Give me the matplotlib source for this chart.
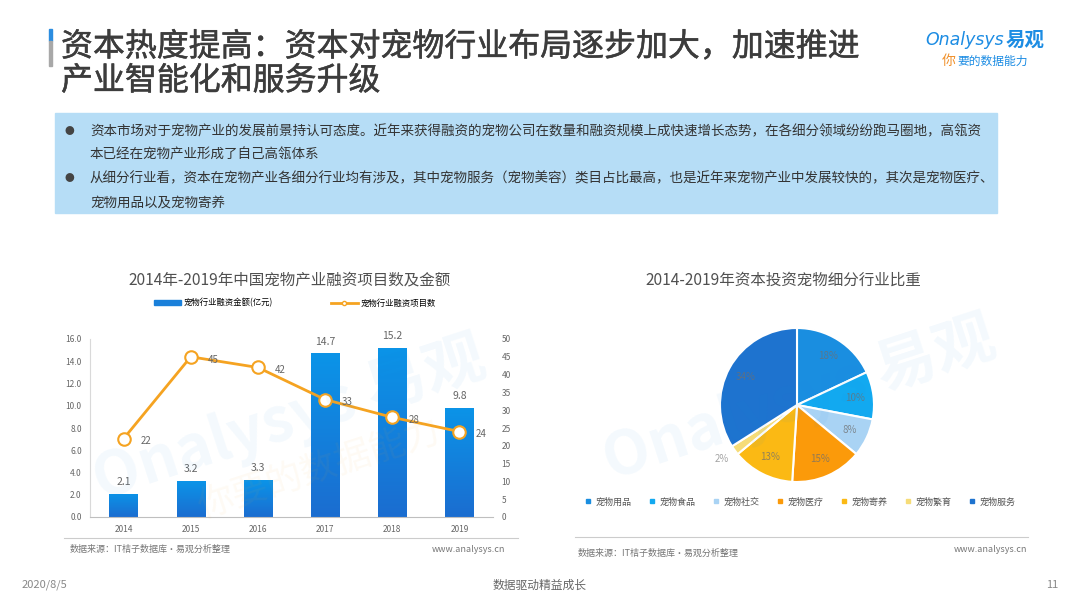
import numpy as np
import matplotlib.pyplot as plt
import matplotlib.patheffects as pe
from matplotlib.colors import LinearSegmentedColormap
from matplotlib.lines import Line2D
from matplotlib.patches import Rectangle

plt.rcParams['font.family'] = ['Noto Sans CJK SC', 'DejaVu Sans']

# 数据
years = ['2014', '2015', '2016', '2017', '2018', '2019']
amount = [2.1, 3.2, 3.3, 14.7, 15.2, 9.8]      # 宠物行业融资金额(亿元)
projects = [22, 45, 42, 33, 28, 24]             # 宠物行业融资项目数

pie_labels = ['宠物用品', '宠物食品', '宠物社交', '宠物医疗', '宠物寄养', '宠物繁育', '宠物服务']
pie_values = [18, 10, 8, 15, 13, 2, 34]
pie_colors = ['#1a8ee0', '#12a9f0', '#a9d3f4', '#fb9a0a', '#fbb914', '#f6dc78', '#1e73cf']

W, H = 1080, 608


def box(x0, y0, x1, y1):
    # 像素坐标 -> figure 坐标
    return [x0 / W, 1 - y1 / H, (x1 - x0) / W, (y1 - y0) / H]


def fx(x):
    return x / W


def fy(y):
    return 1 - y / H


fig = plt.figure(figsize=(W / 100, H / 100), dpi=100)
fig.patch.set_facecolor('white')

# 标题
fig.patches.append(Rectangle((fx(49), fy(41)), 3 / W, 12 / H, transform=fig.transFigure,
                             color='#2b8de0', zorder=5))
fig.patches.append(Rectangle((fx(49), fy(66)), 3 / W, 25 / H, transform=fig.transFigure,
                             color='#a8a8a8', zorder=5))
title_fx = [pe.withStroke(linewidth=0.35, foreground='#3c3c3c')]
fig.text(fx(61), fy(47), '资本热度提高：资本对宠物行业布局逐步加大，加速推进',
         fontsize=23, color='#3c3c3c', va='center', ha='left', path_effects=title_fx)
fig.text(fx(61), fy(81), '产业智能化和服务升级',
         fontsize=23, color='#3c3c3c', va='center', ha='left', path_effects=title_fx)

# logo
fig.text(fx(925), fy(40), 'Onalysys', fontsize=12.5, color='#1c8ce3', va='center', ha='left',
         style='italic', family=['DejaVu Sans'])
fig.text(fx(1006), fy(40), '易观', fontsize=14, color='#1c8ce3', va='center', ha='left',
         fontweight='bold')
fig.text(fx(942), fy(61), '你', fontsize=10, color='#f0902a', va='center', ha='left')
fig.text(fx(957), fy(61), '要的数据能力', fontsize=8.5, color='#1c8ce3', va='center', ha='left',
         style='italic')

# 说明框
fig.patches.append(Rectangle((fx(55), fy(213)), (997 - 55) / W, 100 / H,
                             transform=fig.transFigure, color='#b6ddf6', zorder=0))
bullets = [
    (131, '资本市场对于宠物产业的发展前景持认可态度。近年来获得融资的宠物公司在数量和融资规模上成快速增长态势，在各细分领域纷纷跑马圈地，高瓴资'),
    (155, '本已经在宠物产业形成了自己高瓴体系'),
    (178, '从细分行业看，资本在宠物产业各细分行业均有涉及，其中宠物服务（宠物美容）类目占比最高，也是近年来宠物产业中发展较快的，其次是宠物医疗、'),
    (203, '宠物用品以及宠物寄养'),
]
for yy, t in bullets:
    fig.text(fx(90), fy(yy), t, fontsize=9.75, color='#333333', va='center', ha='left')
for yy in (131, 178):
    fig.text(fx(69), fy(yy), '●', fontsize=7, color='#444444', va='center', ha='center')

# ---------------- 左图：柱状 + 折线 ----------------
fig.text(fx(290), fy(280), '2014年-2019年中国宠物产业融资项目数及金额', fontsize=11.2,
         color='#505050', ha='center', va='center')

ax = fig.add_axes(box(90, 339, 493, 517))
x = np.arange(len(years))
bars = ax.bar(x, amount, width=0.42, color='#1a80da', zorder=2, label='宠物行业融资金额(亿元)')
# 柱子渐变：上浅下深
grad = np.linspace(0, 1, 256).reshape(-1, 1)
cmap = LinearSegmentedColormap.from_list('bar', ['#0b94e8', '#1b6dd0'])
for b in bars:
    bx, by = b.get_x(), b.get_y()
    bw, bh = b.get_width(), b.get_height()
    im = ax.imshow(grad, cmap=cmap, aspect='auto', extent=(bx, bx + bw, by, by + bh),
                   zorder=2.1)
    im.set_clip_path(b)
for xi, v in zip(x, amount):
    ax.annotate(f'{v:.1f}', (xi, v), xytext=(0, 5), textcoords='offset points',
                ha='center', va='bottom', fontsize=7.5, color='#666666')
ax.set_xlim(-0.5, 5.5)
ax.set_ylim(0, 16)
ax.set_yticks(np.arange(0, 16.1, 2))
ax.set_yticklabels([f'{v:.1f}' for v in np.arange(0, 16.1, 2)])
ax.set_xticks(x)
ax.set_xticklabels(years)
ax.tick_params(axis='both', length=0, labelsize=6, colors='#666666', pad=6)
for s in ['top', 'right']:
    ax.spines[s].set_visible(False)
ax.spines['left'].set_color('#d9d9d9')
ax.spines['bottom'].set_color('#bfbfbf')

ax2 = ax.twinx()
ax2.plot(x, projects, color='#f5a321', lw=2, marker='o', ms=9, mfc='white',
         mec='#f5a321', mew=1.5, zorder=3)
for xi, v in zip(x, projects):
    ax2.annotate(str(v), (xi, v), xytext=(12, -2), textcoords='offset points',
                 ha='left', va='center', fontsize=7, color='#666666')
ax2.set_ylim(0, 50)
ax2.set_yticks(np.arange(0, 51, 5))
ax2.tick_params(axis='y', length=0, labelsize=6, colors='#666666', pad=6)
for s in ['top', 'right', 'left', 'bottom']:
    ax2.spines[s].set_visible(False)

handles = [Rectangle((0, 0), 1, 1, color='#1a80da'),
           Line2D([], [], color='#f5a321', lw=2, marker='o', ms=3, mfc='white', mec='#f5a321')]
fig.legend(handles, ['宠物行业融资金额(亿元)', '宠物行业融资项目数'], loc='center',
           bbox_to_anchor=(fx(295), fy(303)), ncol=2, frameon=False, fontsize=6,
           handlelength=3.2, handleheight=0.6, columnspacing=7, handletextpad=0.3)

# 水印
fig.text(fx(290), fy(420), 'Onalysys 易观', fontsize=44, color='#1c8ce3', alpha=0.05,
         rotation=18, ha='center', va='center', fontweight='bold')
fig.text(fx(320), fy(470), '你要的数据能力', fontsize=26, color='#f0b040', alpha=0.06,
         rotation=18, ha='center', va='center')

fig.lines.append(Line2D([fx(64), fx(518)], [fy(538), fy(538)], color='#cccccc', lw=0.8,
                        transform=fig.transFigure))
fig.text(fx(70), fy(549), '数据来源：IT桔子数据库·易观分析整理', fontsize=6.5, color='#777777',
         ha='left', va='center')
fig.text(fx(505), fy(549), 'www.analysys.cn', fontsize=6.5, color='#777777',
         ha='right', va='center')

# ---------------- 右图：饼图 ----------------
fig.text(fx(783), fy(280), '2014-2019年资本投资宠物细分行业比重', fontsize=11.2,
         color='#505050', ha='center', va='center')

pax = fig.add_axes(box(797 - 82, 405 - 82, 797 + 82, 405 + 82))
wedges, _ = pax.pie(pie_values, colors=pie_colors, startangle=90, counterclock=False,
                    radius=1, wedgeprops=dict(edgecolor='white', linewidth=1.5))
pax.set_xlim(-82 / 77, 82 / 77)
pax.set_ylim(-82 / 77, 82 / 77)
pax.set_aspect('equal')
pax.axis('off')
for w, v in zip(wedges, pie_values):
    ang = np.deg2rad((w.theta1 + w.theta2) / 2)
    r = 1.2 if v < 5 else 0.76
    col = '#9a9a9a' if v < 5 else '#6f6f6f'
    pax.text(r * np.cos(ang), r * np.sin(ang), f'{v}%', fontsize=7, color=col,
             ha='center', va='center', alpha=0.9 if v < 5 else 0.75)

leg_handles = [Line2D([], [], ls='', marker='s', ms=3.5, color=c) for c in pie_colors]
fig.legend(leg_handles, pie_labels, loc='center', bbox_to_anchor=(fx(800), fy(502)),
           ncol=7, frameon=False, fontsize=6.5, handlelength=0.8, handletextpad=0.4,
           columnspacing=1.9, labelcolor='#555555')

fig.text(fx(800), fy(400), 'Onalysys 易观', fontsize=44, color='#1c8ce3', alpha=0.05,
         rotation=18, ha='center', va='center', fontweight='bold')

fig.lines.append(Line2D([fx(575), fx(1028)], [fy(537), fy(537)], color='#cccccc', lw=0.8,
                        transform=fig.transFigure))
fig.text(fx(578), fy(553), '数据来源：IT桔子数据库·易观分析整理', fontsize=6.5, color='#777777',
         ha='left', va='center')
fig.text(fx(1027), fy(549), 'www.analysys.cn', fontsize=6.5, color='#777777',
         ha='right', va='center')

# 页脚
fig.text(fx(22), fy(585), '2020/8/5', fontsize=8, color='#888888', ha='left', va='center')
fig.text(fx(540), fy(585), '数据驱动精益成长', fontsize=8.5, color='#666666', ha='center', va='center')
fig.text(fx(1058), fy(585), '11', fontsize=8, color='#888888', ha='right', va='center')

fig.savefig('out.png', dpi=100)
